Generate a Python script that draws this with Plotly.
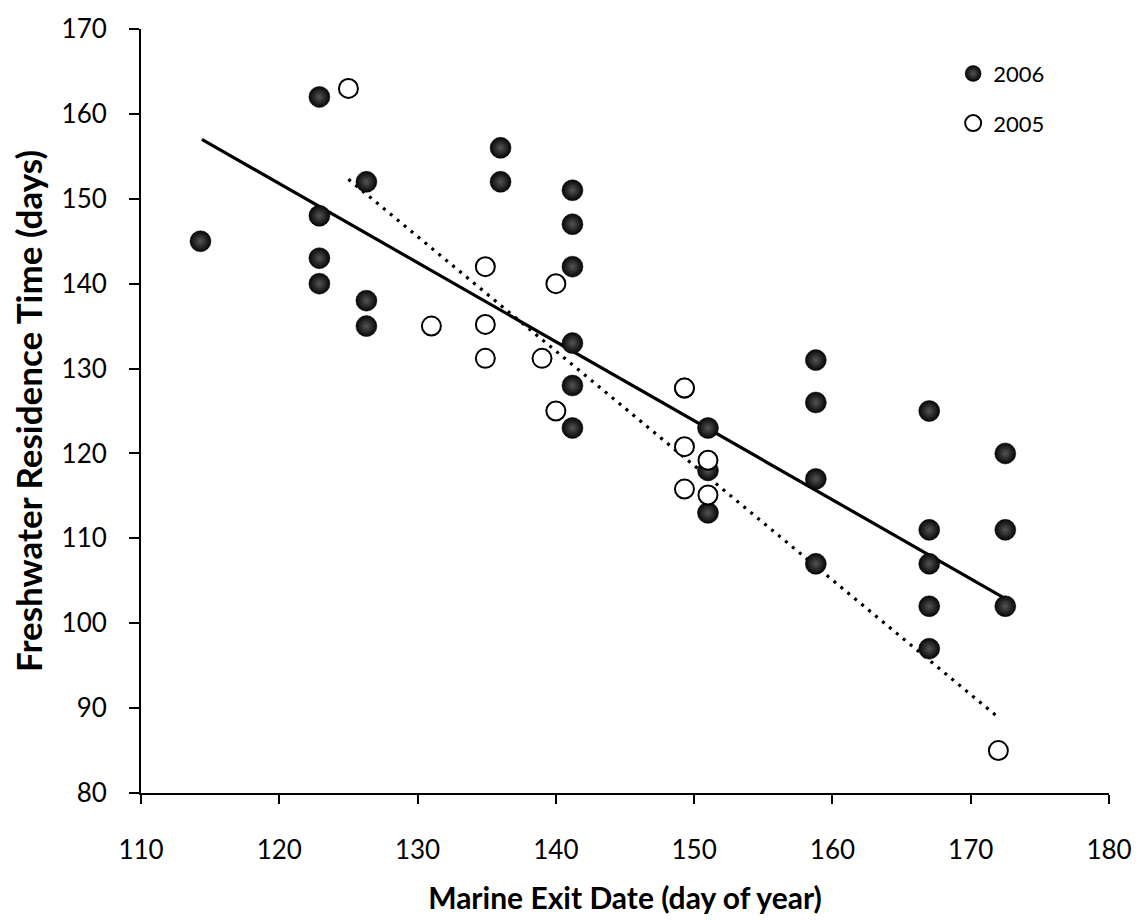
import numpy as np
import plotly.graph_objects as go

# 2006 (filled)
x2006 = [114.3, 122.9, 122.9, 122.9, 122.9, 126.3, 126.3, 126.3, 136.0, 136.0,
         141.2, 141.2, 141.2, 141.2, 141.2, 141.2, 151.0, 151.0, 151.0,
         158.8, 158.8, 158.8, 158.8, 167.0, 167.0, 167.0, 167.0, 167.0,
         172.5, 172.5, 172.5]
y2006 = [145, 162, 148, 143, 140, 152, 138, 135, 156, 152,
         151, 147, 142, 133, 128, 123, 123, 118, 113,
         131, 126, 117, 107, 125, 111, 107, 102, 97,
         120, 111, 102]

# 2005 (open)
x2005 = [125.0, 131.0, 134.9, 134.9, 134.9, 140.0, 139.0, 140.0,
         149.3, 149.3, 149.3, 149.3, 151.0, 151.0, 172.0]
y2005 = [163, 135, 142, 135.2, 131.2, 140, 131.2, 125,
         127.7, 127.7, 120.8, 115.8, 119.2, 115.1, 85]

# Trend line end points
trend2006_x = [114.4, 172.5]
trend2006_y = [157.0, 102.9]
trend2005_x = [125.0, 172.0]
trend2005_y = [152.3, 88.9]

FONT = "Lato"

fig = go.Figure()

fig.add_trace(go.Scatter(
    x=trend2006_x, y=trend2006_y, mode="lines",
    line=dict(color="black", width=3.2), showlegend=False, hoverinfo="skip"))
fig.add_trace(go.Scatter(
    x=trend2005_x, y=trend2005_y, mode="lines",
    line=dict(color="black", width=3.2, dash="3px,6px"), showlegend=False, hoverinfo="skip"))

fig.add_trace(go.Scatter(
    x=x2006, y=y2006, mode="markers", name="2006", legendgroup="a",
    marker=dict(size=21, color="#050505",
                gradient=dict(type="radial", color="#555555"),
                line=dict(color="#000000", width=0.5))))
fig.add_trace(go.Scatter(
    x=x2005, y=y2005, mode="markers", name="2005", legendgroup="b",
    marker=dict(size=19, color="white", line=dict(color="black", width=2))))

fig.update_layout(
    width=1147, height=922,
    margin=dict(l=141, r=38, t=20, b=128),
    paper_bgcolor="white", plot_bgcolor="white",
    font=dict(family=FONT, size=26, color="black"),
    showlegend=True,
    legend=dict(x=0.839, y=0.969, xanchor="left", yanchor="top",
                font=dict(family=FONT, size=22, color="black"),
                bgcolor="rgba(0,0,0,0)", traceorder="grouped",
                tracegroupgap=18, itemwidth=30),
    xaxis=dict(range=[110, 180], dtick=10, tick0=110, showgrid=False, zeroline=False,
               showline=True, linecolor="black", linewidth=2,
               ticks="outside", ticklen=9, tickwidth=2, tickcolor="black",
               ticklabelstandoff=24,
               tickfont=dict(family=FONT, size=26),
               title=dict(text="<b>Marine Exit Date (day of year)</b>",
                          font=dict(family=FONT, size=30), standoff=24)),
    yaxis=dict(range=[80, 170], dtick=10, tick0=80, showgrid=False, zeroline=False,
               showline=True, linecolor="black", linewidth=2,
               ticks="outside", ticklen=10, tickwidth=2, tickcolor="black",
               ticklabelstandoff=17,
               tickfont=dict(family=FONT, size=26),
               title=dict(text="<b>Freshwater Residence Time (days)</b>",
                          font=dict(family=FONT, size=35), standoff=8)),
)

fig.write_html("out.html")
